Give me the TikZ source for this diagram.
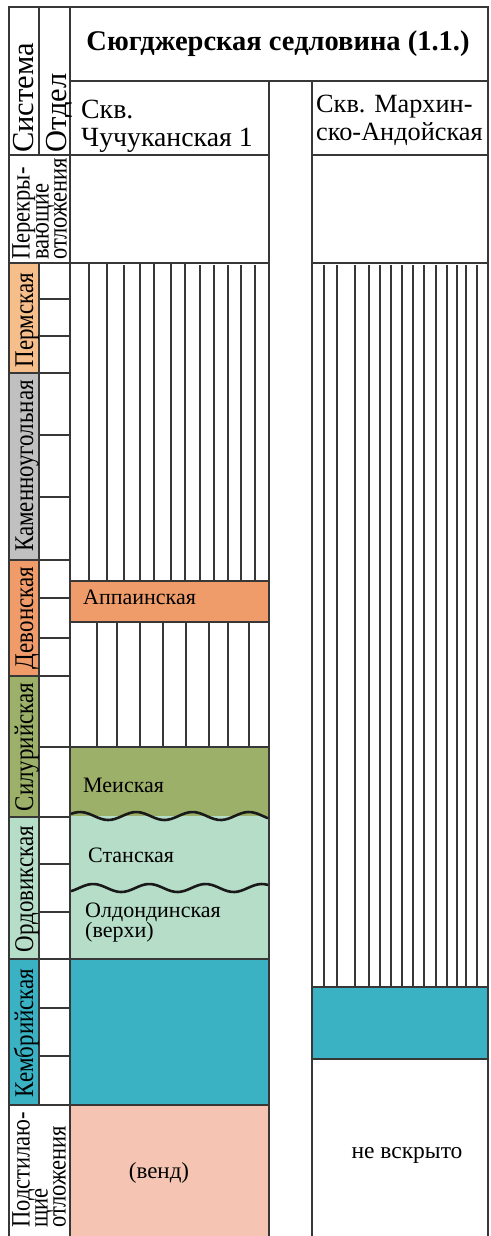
\documentclass[tikz,border=0pt]{standalone}
\usepackage{fontspec}
\setmainfont{Liberation Serif}
\newfontfamily\narrowserif[FakeStretch=0.85]{Liberation Serif}
\usetikzlibrary{positioning}
\definecolor{permcol}{RGB}{246,190,138}
\definecolor{carbcol}{RGB}{192,192,192}
\definecolor{devcol}{RGB}{240,156,106}
\definecolor{silcol}{RGB}{156,176,106}
\definecolor{ordcol}{RGB}{181,221,200}
\definecolor{cambcol}{RGB}{58,178,196}
\definecolor{vendcol}{RGB}{245,196,178}
\definecolor{linecol}{RGB}{55,55,55}

\begin{document}
\begin{tikzpicture}[x=1pt,y=-1pt,
  grid/.style={draw=linecol,line width=1.3pt},
  hatch/.style={draw=linecol,line width=1.1pt},
  unconf/.style={draw=black!90,line width=2.6pt,line join=round},
  headlbl/.style={rotate=90,anchor=base west,inner sep=0pt,font=\fontsize{30.5}{30.5}\selectfont},
  syslbl/.style={rotate=90,anchor=base,inner sep=0pt,font=\narrowserif\fontsize{27}{27}\selectfont},
  rowlbl/.style={rotate=90,anchor=north west,align=left,inner sep=0pt,font=\narrowserif\fontsize{26.5}{18}\selectfont},
  welllbl/.style={anchor=north west,align=left,inner sep=0pt,font=\fontsize{27.8}{28}\selectfont},
  unitlbl/.style={anchor=west,inner sep=0pt,font=\fontsize{22}{20}\selectfont}]
  \useasboundingbox (0,0) rectangle (490,1236);
  % colour fills
  \fill[permcol] (9,263) rectangle (39,373);
  \fill[carbcol] (9,373) rectangle (39,560);
  \fill[devcol] (9,560) rectangle (39,676);
  \fill[silcol] (9,676) rectangle (39,817);
  \fill[ordcol] (9,817) rectangle (39,959);
  \fill[cambcol] (9,959) rectangle (39,1105);
  \fill[devcol] (70,581) rectangle (269,622);
  \fill[silcol] (70,747) rectangle (269,816);
  \fill[ordcol] (70,816) rectangle (269,959);
  \fill[cambcol] (70,959) rectangle (269,1105);
  \fill[vendcol] (70,1105) rectangle (269,1236);
  \fill[cambcol] (312,987) rectangle (488,1059);
  % hatching, well 1
  \draw[hatch] (89,264) -- (89,581);
  \draw[hatch] (107,264) -- (107,581);
  \draw[hatch] (124,265) -- (124,581);
  \draw[hatch] (140,264) -- (140,581);
  \draw[hatch] (154,264) -- (154,581);
  \draw[hatch] (171,264) -- (171,581);
  \draw[hatch] (185,264) -- (185,581);
  \draw[hatch] (200,265) -- (200,581);
  \draw[hatch] (214,265) -- (214,581);
  \draw[hatch] (228,265) -- (228,581);
  \draw[hatch] (241,265) -- (241,581);
  \draw[hatch] (255,265) -- (255,581);
  \draw[hatch] (97,622) -- (97,747);
  \draw[hatch] (117,622) -- (117,747);
  \draw[hatch] (140,622) -- (140,747);
  \draw[hatch] (163,622) -- (163,747);
  \draw[hatch] (186,622) -- (186,747);
  \draw[hatch] (209,622) -- (209,747);
  \draw[hatch] (228,622) -- (228,747);
  \draw[hatch] (249,622) -- (249,747);
  % hatching, well 2
  \draw[hatch] (324,265) -- (324,987);
  \draw[hatch] (337,265) -- (337,987);
  \draw[hatch] (355,265) -- (355,987);
  \draw[hatch] (369,265) -- (369,987);
  \draw[hatch] (380,265) -- (380,987);
  \draw[hatch] (391,265) -- (391,987);
  \draw[hatch] (402,265) -- (402,987);
  \draw[hatch] (413,265) -- (413,987);
  \draw[hatch] (424,265) -- (424,987);
  \draw[hatch] (436,265) -- (436,987);
  \draw[hatch] (447,265) -- (447,987);
  \draw[hatch] (457,265) -- (457,987);
  \draw[hatch] (466,265) -- (466,987);
  \draw[hatch] (477,265) -- (477,987);
  % table frame
  \draw[grid] (9,1236) -- (9,7) -- (488,7) -- (488,1236);
  \draw[grid] (39,7) -- (39,155);
  \draw[grid] (39,263) -- (39,1105);
  \draw[grid] (70,7) -- (70,1236);
  \draw[grid] (269,81) -- (269,1236);
  \draw[grid] (312,81) -- (312,1236);
  \draw[grid] (70,81) -- (488,81);
  \draw[grid] (9,155) -- (269,155) (312,155) -- (488,155);
  \draw[grid] (9,263) -- (269,263) (312,263) -- (488,263);
  \draw[grid] (9,373) -- (70,373);
  \draw[grid] (9,560) -- (70,560);
  \draw[grid] (9,676) -- (70,676);
  \draw[grid] (9,817) -- (70,817);
  \draw[grid] (9,959) -- (70,959);
  \draw[grid] (9,1105) -- (269,1105);
  \draw[grid] (39,299) -- (70,299);
  \draw[grid] (39,336) -- (70,336);
  \draw[grid] (39,435) -- (70,435);
  \draw[grid] (39,497) -- (70,497);
  \draw[grid] (39,598) -- (70,598);
  \draw[grid] (39,638) -- (70,638);
  \draw[grid] (39,747) -- (70,747);
  \draw[grid] (39,864) -- (70,864);
  \draw[grid] (39,912) -- (70,912);
  \draw[grid] (39,1008) -- (70,1008);
  \draw[grid] (39,1056) -- (70,1056);
  \draw[grid] (70,581) -- (269,581);
  \draw[grid] (70,622) -- (269,622);
  \draw[grid] (70,747) -- (269,747);
  \draw[grid] (70,959) -- (269,959);
  \draw[grid] (312,987) -- (488,987);
  \draw[grid] (312,1059) -- (488,1059);
  % unconformities
  \draw[unconf,smooth,samples=60,domain=71:268,variable=\x] plot ({\x},{816-4*sin((\x-66)*6.4)});
  \draw[unconf,smooth,samples=60,domain=71:268,variable=\x] plot ({\x},{888-4*sin((\x-79)*6.4)});
  % headings
  \node[font=\bfseries\fontsize{28.5}{28.5}\selectfont] (title) at (278,44) {Сюгджерская седловина (1.1.)};
  \node[headlbl] (system) at (33,153) {Система};
  \node[headlbl] (series) at (66,153) {Отдел};
  \node[welllbl] (wellA) at (81,100) {Скв.\\Чучуканская 1};
  \node[welllbl,font=\fontsize{26.3}{28}\selectfont] (wellB) at (316,95) {Скв. Мархин-\\ско-Андойская};
  \node[rowlbl] (cover) at (12,260) {Перекры-\\вающие\\отложения};
  \node[rowlbl] (base) at (12,1228) {Подстилаю-\\щие\\отложения};
  % systems
  \node[syslbl] (perm) at (33,320) {Пермская};
  \node[syslbl] (carb) at (33,466) {Каменноугольная};
  \node[syslbl] (dev) at (33,618) {Девонская};
  \node[syslbl] (sil) at (33,747) {Силурийская};
  \node[syslbl] (ord) at (33,889) {Ордовикская};
  \node[syslbl] (camb) at (33,1033) {Кембрийская};
  % formations
  \node[unitlbl] (appa) at (83,597) {Аппаинская};
  \node[unitlbl] (meik) at (83,785) {Меиская};
  \node[unitlbl] (stan) at (88,855) {Станская};
  \node[unitlbl,anchor=north west,align=left] (oldo) at (85,903) {Олдондинская\\(верхи)};
  \node[font=\fontsize{23}{23}\selectfont] (vend) at (159,1173) {(венд)};
  \node[font=\fontsize{23.5}{23.5}\selectfont] (nopen) at (407,1155) {не вскрыто};
\end{tikzpicture}
\end{document}
